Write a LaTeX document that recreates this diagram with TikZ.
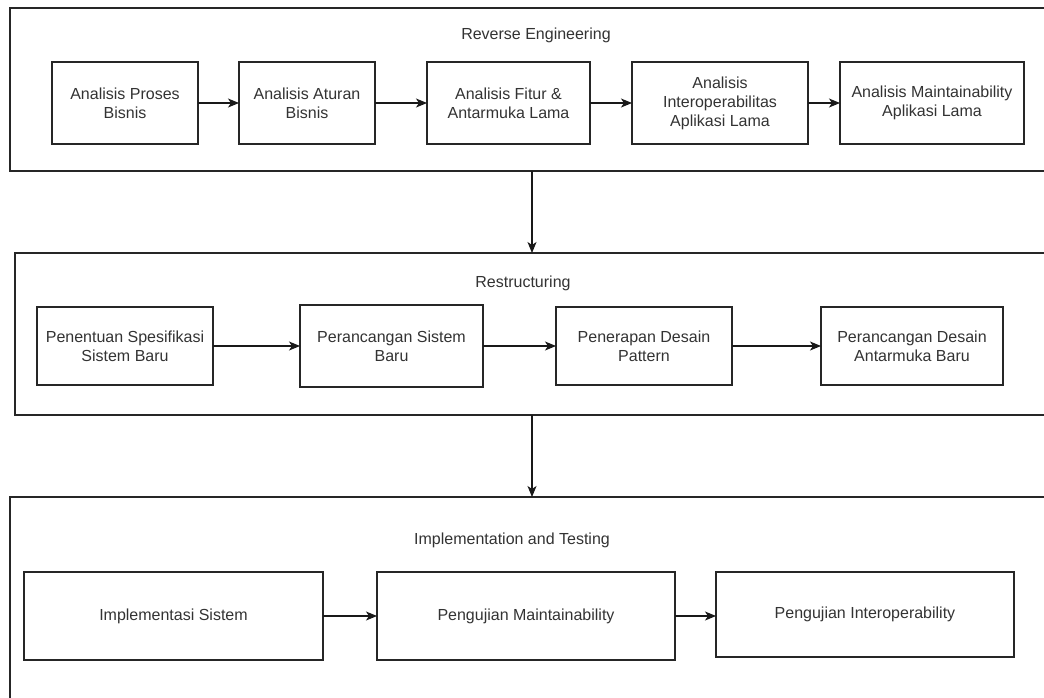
\documentclass[tikz,border=0pt]{standalone}
\usepackage{fontspec}
\setmainfont{Liberation Sans}
\usetikzlibrary{arrows.meta}
\begin{document}
\begin{tikzpicture}[x=1pt,y=-1pt,
  lbl/.style={font=\fontsize{16}{19}\selectfont, text=black!80},
  stage/.style={draw=black!85, line width=1.1pt, anchor=north west, inner sep=0pt, outer sep=0pt},
  proc/.style={draw=black!85, line width=1.1pt, lbl, align=center, inner sep=0pt, outer sep=0pt},
  arr/.style={-{Stealth[length=11pt,width=9pt,inset=3pt]}, line width=1.1pt, draw=black!90}]
\useasboundingbox (0,0) rectangle (1044,697);
\fill[white] (0,0) rectangle (1044,697);
% stages
\node[stage, minimum width=1044pt, minimum height=163pt] (s1) at (10,8) {};
\node[stage, minimum width=1034pt, minimum height=162pt] (s2) at (15,253) {};
\node[stage, minimum width=1044pt, minimum height=220pt] (s3) at (10,497) {};
\node[lbl] (t1) at (536,35) {Reverse Engineering};
\node[lbl] (t2) at (523,283) {Restructuring};
\node[lbl] (t3) at (512,540) {Implementation and Testing};
% row 1
\node[proc, minimum width=146pt, minimum height=82pt] (a) at (125,103) {Analisis Proses\\Bisnis};
\node[proc, minimum width=136pt, minimum height=82pt] (b) at (307,103) {Analisis Aturan\\Bisnis};
\node[proc, minimum width=163pt, minimum height=82pt] (c) at (508.5,103) {Analisis Fitur \&\\Antarmuka Lama};
\node[proc, minimum width=176pt, minimum height=82pt] (d) at (720,103) {Analisis\\Interoperabilitas\\Aplikasi Lama};
\node[proc, minimum width=184pt, minimum height=82pt] (e) at (932,103) {Analisis Maintainability\\Aplikasi Lama};
% row 2
\node[proc, minimum width=176pt, minimum height=78pt] (f) at (125,346) {Penentuan Spesifikasi\\Sistem Baru};
\node[proc, minimum width=183pt, minimum height=82pt] (g) at (391.5,346) {Perancangan Sistem\\Baru};
\node[proc, minimum width=176pt, minimum height=78pt] (h) at (644,346) {Penerapan Desain\\Pattern};
\node[proc, minimum width=182pt, minimum height=78pt] (i) at (912,346) {Perancangan Desain\\Antarmuka Baru};
% row 3
\node[proc, minimum width=299pt, minimum height=88pt] (j) at (173.5,616) {Implementasi Sistem};
\node[proc, minimum width=298pt, minimum height=88pt] (k) at (526,616) {Pengujian Maintainability};
\node[proc, minimum width=298pt, minimum height=85pt] (l) at (865,614.5) {Pengujian Interoperability};
% connectors
\draw[arr] (a) -- (b);
\draw[arr] (b) -- (c);
\draw[arr] (c) -- (d);
\draw[arr] (d) -- (e);
\draw[arr] (f) -- (g);
\draw[arr] (g) -- (h);
\draw[arr] (h) -- (i);
\draw[arr] (j) -- (k);
\draw[arr] (k.east) -- (k.east -| l.west);
\draw[arr] (s1.south) -- (s2.north);
\draw[arr] (s2.south) -- (s3.north);
\end{tikzpicture}
\end{document}
